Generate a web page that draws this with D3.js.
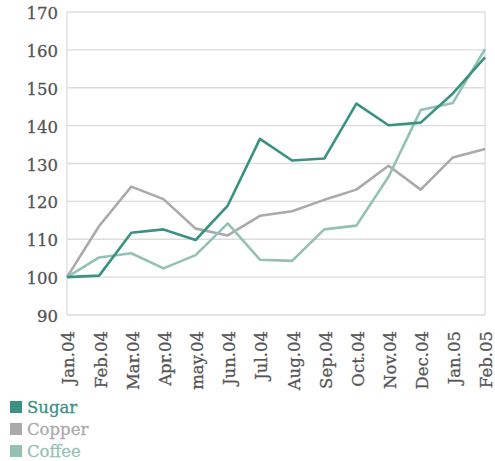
<!DOCTYPE html>
<html><head><meta charset="utf-8">
<script src="https://cdn.jsdelivr.net/npm/d3@7/dist/d3.min.js"></script>
<style>
body{margin:0;background:#fff;}
text{font-family:"DejaVu Serif","Liberation Serif",serif;}
</style></head>
<body><svg id="c" width="495" height="461"></svg>
<script>
const months = ["Jan.04","Feb.04","Mar.04","Apr.04","may.04","Jun.04","Jul.04","Aug.04","Sep.04","Oct.04","Nov.04","Dec.04","Jan.05","Feb.05"];
const sugar  = [100,100.4,111.7,112.6,109.8,118.9,136.5,130.8,131.3,145.8,140.1,140.8,148.5,158.0];
const copper = [100,113.5,123.9,120.6,112.8,111.0,116.2,117.4,120.4,123.1,129.4,123.1,131.6,133.8];
const coffee = [100,105.2,106.3,102.3,105.8,114.2,104.6,104.3,112.6,113.6,126.5,144.1,146.0,160.2];
const yTicks = [90,100,110,120,130,140,150,160,170];
const seriesNames = ["Sugar","Copper","Coffee"];
const seriesColors = ["#3a9282","#aaaaaa","#93c2b5"];
const seriesData = [sugar, copper, coffee];

const svg = d3.select("#c");
const L=67, R=485, T=12, B=315;
const x = d3.scalePoint().domain(months).range([L,R]);
const y = d3.scaleLinear().domain([90,170]).range([B,T]);

// grid
svg.append("g").selectAll("line").data(yTicks).join("line")
  .attr("x1",L).attr("x2",R).attr("y1",d=>y(d)).attr("y2",d=>y(d))
  .attr("stroke","#dcdcdc").attr("stroke-width",1.3);
svg.append("line").attr("x1",L).attr("x2",L).attr("y1",T).attr("y2",B).attr("stroke","#dcdcdc").attr("stroke-width",1.3);
svg.append("line").attr("x1",R).attr("x2",R).attr("y1",T).attr("y2",B).attr("stroke","#dcdcdc").attr("stroke-width",1.3);

// y axis
const ya = svg.append("g").attr("transform",`translate(${L},0)`)
  .call(d3.axisLeft(y).tickValues(yTicks).tickSize(0).tickPadding(9));
ya.select(".domain").remove();
ya.selectAll("text").attr("fill","#555").attr("stroke","#555").attr("stroke-width",0.3)
  .attr("dy","0.4em").style("font-size","16.5px").style("font-family","DejaVu Serif");

// x axis
const xa = svg.append("g").attr("transform",`translate(0,${B})`)
  .call(d3.axisBottom(x).tickSize(0));
xa.select(".domain").remove();
xa.selectAll("text").attr("fill","#555").attr("stroke","#555").attr("stroke-width",0.3)
  .style("font-size","16.5px").style("font-family","DejaVu Serif")
  .attr("text-anchor","end").attr("transform","rotate(-90)").attr("x",-16).attr("y",0).attr("dy","0.42em");

// lines
const line = d3.line().x((d,i)=>x(months[i])).y(d=>y(d));
svg.append("g").selectAll("path").data([1,2,0]).join("path")
  .attr("d",i=>line(seriesData[i])).attr("fill","none")
  .attr("stroke",i=>seriesColors[i]).attr("stroke-width",2.6).attr("stroke-linejoin","round");

// legend
const lg = svg.append("g").selectAll("g").data(seriesNames).join("g")
  .attr("transform",(d,i)=>`translate(10,${401+i*22})`);
lg.append("rect").attr("width",12).attr("height",12).attr("fill",(d,i)=>seriesColors[i]);
lg.append("text").attr("x",17).attr("y",6).attr("dy","0.38em").text(d=>d)
  .attr("fill",(d,i)=>seriesColors[i]).attr("stroke",(d,i)=>seriesColors[i]).attr("stroke-width",0.3)
  .style("font-size","16.5px");
</script></body></html>
